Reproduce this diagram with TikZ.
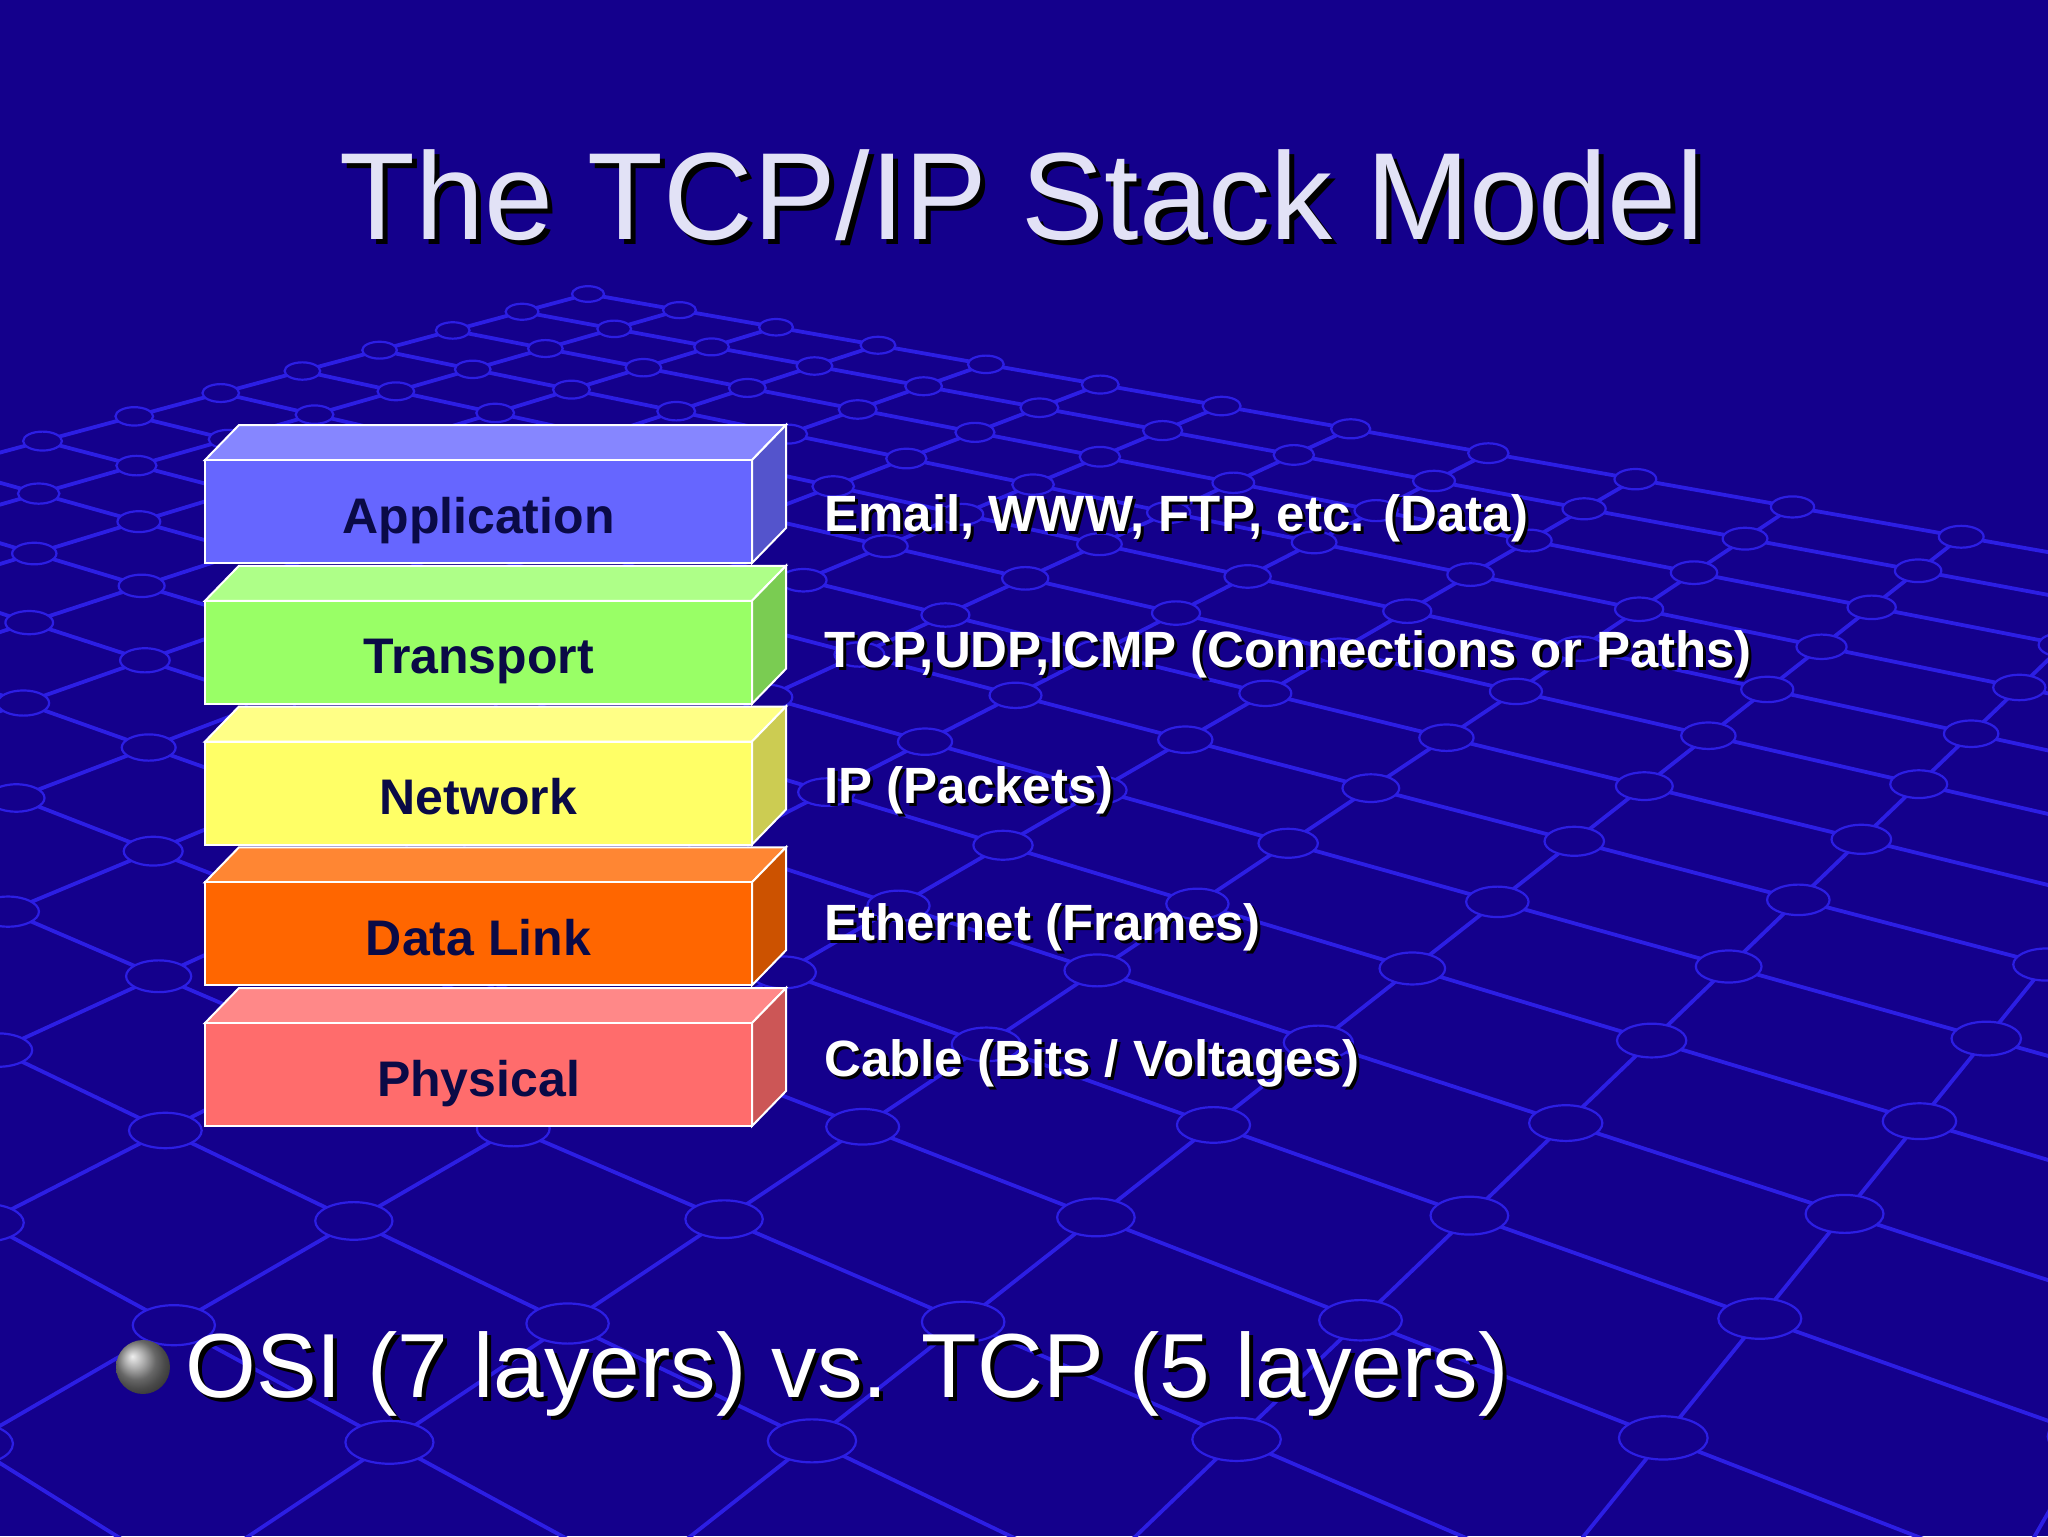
\documentclass[tikz,border=0pt]{standalone}
\usepackage{fontspec}
\setmainfont{Liberation Sans}
\definecolor{bgblue}{RGB}{20,0,140}
\definecolor{meshblue}{RGB}{44,30,228}
\definecolor{labelnavy}{RGB}{10,10,70}
\definecolor{titlecol}{RGB}{226,226,246}
\definecolor{appF}{RGB}{102,102,255}
\definecolor{appT}{RGB}{134,134,255}
\definecolor{appS}{RGB}{84,84,204}
\definecolor{trF}{RGB}{153,255,102}
\definecolor{trT}{RGB}{174,255,136}
\definecolor{trS}{RGB}{122,204,82}
\definecolor{nwF}{RGB}{255,255,102}
\definecolor{nwT}{RGB}{255,255,134}
\definecolor{nwS}{RGB}{204,204,82}
\definecolor{dlF}{RGB}{255,102,0}
\definecolor{dlT}{RGB}{255,134,51}
\definecolor{dlS}{RGB}{204,82,0}
\definecolor{phF}{RGB}{255,108,108}
\definecolor{phT}{RGB}{255,136,136}
\definecolor{phS}{RGB}{204,86,86}
\begin{document}
\begin{tikzpicture}[x=0.5pt,y=-0.5pt,
  meshline/.style={draw=meshblue,line width=1.9pt},
  meshnode/.style={draw=meshblue,fill=bgblue,line width=1.1pt},
  face/.style={draw=white,line width=1pt,line join=miter},
  lbl/.style={inner sep=0pt,anchor=base,text=labelnavy,font=\fontsize{25pt}{30pt}\selectfont\bfseries},
  desc/.style={inner sep=0pt,anchor=base west,text=white,font=\fontsize{25.5pt}{30pt}\selectfont\bfseries},
  descsh/.style={desc,text=black},
  ttl/.style={inner sep=0pt,anchor=base,text=titlecol,font=\fontsize{62pt}{70pt}\selectfont},
  ttlsh/.style={ttl,text=black},
  bul/.style={inner sep=0pt,anchor=base west,text=white,font=\fontsize{45.5pt}{52pt}\selectfont},
  bulsh/.style={bul,text=black}
]
\fill[bgblue] (0,0) rectangle (2048,1536);
\useasboundingbox (0,0) rectangle (2048,1536);
% perspective mesh
\begin{scope}
\clip (0,0) rectangle (2048,1536);
\foreach \u in {0,...,16}{
  \foreach \v in {0,...,16}{
    \pgfmathsetmacro\s{0.026*\u}
    \pgfmathsetmacro\t{0.0251*\v}
    \pgfmathsetmacro\w{1-\s-\t}
    \pgfmathsetmacro\X{(588+2840*\s-3147*\t)/\w}
    \pgfmathsetmacro\Y{(294+312*\s+396*\t)/\w}
    \coordinate (m-\u-\v) at (\X,\Y);
  }}
\foreach \k in {0,...,16}{
  \draw[meshline] (m-0-\k) -- (m-16-\k);
  \draw[meshline] (m-\k-0) -- (m-\k-16);
}
\foreach \u in {0,...,16}{
  \foreach \v in {0,...,16}{
    \pgfmathsetmacro\w{1-0.026*\u-0.0251*\v}
    \pgfmathsetmacro\rx{16/\w}
    \pgfmathsetmacro\ry{7.8/\w}
    \path[meshnode] (m-\u-\v) ellipse[x radius=\rx, y radius=\ry];
  }}
\end{scope}
% title
\node[ttlsh] (titlesh) at (1027,244) {The TCP/IP Stack Model};
\node[ttl] (title) at (1022,239) {The TCP/IP Stack Model};
% stack
\foreach \i/\cf/\ct/\cs/\nm/\lab in {0/appF/appT/appS/app/Application,1/trF/trT/trS/tr/Transport,2/nwF/nwT/nwS/nw/Network,3/dlF/dlT/dlS/dl/Data Link,4/phF/phT/phS/ph/Physical}{
  \pgfmathsetmacro\yt{460+140.75*\i}
  \filldraw[face,fill=\ct] (205,\yt) -- (239,{\yt-35}) -- (786,{\yt-35}) -- (752,\yt) -- cycle;
  \filldraw[face,fill=\cs] (752,\yt) -- (786,{\yt-35}) -- (786,{\yt+68}) -- (752,{\yt+103}) -- cycle;
  \filldraw[face,fill=\cf] (205,\yt) rectangle (752,{\yt+103});
  \node[lbl] (\nm) at (478.5,{\yt+73}) {\lab};
}
% descriptions
\foreach \y/\nm/\txt in {531/d1/{Email, WWW, FTP, etc. (Data)},667/d2/{TCP,UDP,ICMP (Connections or Paths)},803/d3/{IP (Packets)},940/d4/{Ethernet (Frames)},1076/d5/{Cable (Bits / Voltages)}}{
  \node[descsh] (\nm s) at (827,{\y+3}) {\txt};
  \node[desc] (\nm) at (824,\y) {\txt};
}
% bullet
\shade[ball color=gray!85] (143,1367) circle[radius=27];
\node[bulsh] (bulletsh) at (189,1401) {OSI (7 layers) vs. TCP (5 layers)};
\node[bul] (bullet) at (185,1397) {OSI (7 layers) vs. TCP (5 layers)};
\end{tikzpicture}
\end{document}
